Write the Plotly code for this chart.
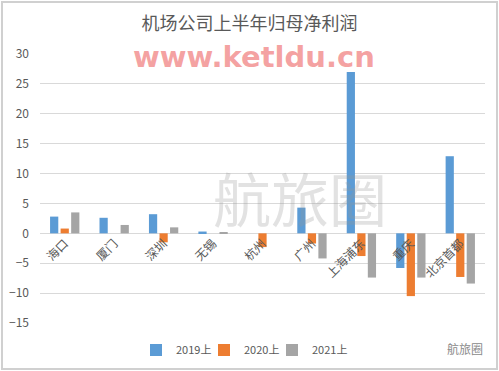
import plotly.graph_objects as go

categories = ["海口", "厦门", "深圳", "无锡", "杭州", "广州", "上海浦东", "重庆", "北京首都"]
series_names = ["2019上", "2020上", "2021上"]
v2019 = [2.8, 2.6, 3.2, 0.3, 0.0, 4.3, 27.0, -5.8, 12.9]
v2020 = [0.8, 0.0, -1.5, 0.0, -2.3, -1.7, -3.8, -10.5, -7.3]
v2021 = [3.5, 1.4, 1.0, 0.2, 0.0, -4.2, -7.4, -7.4, -8.4]
colors = ["#5B9BD5", "#ED7D31", "#A5A5A5"]
y_ticks = [30, 25, 20, 15, 10, 5, 0, -5, -10, -15]

fig = go.Figure()
legend_ids = ["legend", "legend2", "legend3"]
for name, vals, c, lg in zip(series_names, [v2019, v2020, v2021], colors, legend_ids):
    fig.add_trace(go.Bar(name=name, x=categories, y=vals, marker_color=c,
                         marker_line_width=0, legend=lg))

ymin, ymax = -15, 30
legend_px = [136, 204, 272]
legend_common = dict(orientation="h", xanchor="left", yref="container",
                     y=1 - 350 / 371, yanchor="middle", bgcolor="rgba(0,0,0,0)",
                     font=dict(size=11, color="#595959"), itemwidth=30)
fig.update_layout(
    width=499, height=371,
    margin=dict(l=40, r=14, t=54, b=48, autoexpand=False),
    paper_bgcolor="white", plot_bgcolor="white",
    font=dict(family="Noto Sans CJK SC", color="#595959"),
    title=dict(text="机场公司上半年归母净利润", x=0.5, xanchor="center",
               y=1 - 24 / 371, yanchor="middle",
               font=dict(size=18, color="#595959")),
    barmode="group", bargap=0.36, bargroupgap=0.22,
    showlegend=True,
    legend=dict(x=(legend_px[0] - 40) / 445, **legend_common),
    legend2=dict(x=(legend_px[1] - 40) / 445, **legend_common),
    legend3=dict(x=(legend_px[2] - 40) / 445, **legend_common),
    xaxis=dict(anchor="free", position=(0 - ymin) / (ymax - ymin), automargin=False,
               tickangle=-45, tickfont=dict(size=12, color="#595959"),
               showgrid=False, showline=False, ticks=""),
    yaxis=dict(range=[ymin, ymax], tickvals=y_ticks, ticks="", automargin=False,
               tickfont=dict(size=12, color="#595959"), ticklabelstandoff=10,
               gridcolor="#D9D9D9", gridwidth=1, zeroline=True,
               zerolinecolor="#D9D9D9", zerolinewidth=1, showline=False),
)

# watermarks
fig.add_annotation(text="<b>www.ketldu.cn</b>", xref="paper", yref="paper",
                   x=(254 - 40) / 445, y=1 - (57 - 54) / 269, xanchor="center",
                   yanchor="middle", showarrow=False,
                   font=dict(family="DejaVu Sans", size=29, color="rgba(240,120,120,0.7)"))
fig.add_annotation(text="航旅圈", xref="paper", yref="paper",
                   x=(300 - 40) / 445, y=1 - (197 - 54) / 269, xanchor="center",
                   yanchor="middle", showarrow=False,
                   font=dict(family="Noto Sans CJK SC", size=58, color="rgba(150,150,150,0.28)"))
fig.add_annotation(text="航旅圈", xref="paper", yref="paper",
                   x=1.0, y=-(348 - 323) / 269, xanchor="right", yanchor="middle",
                   showarrow=False,
                   font=dict(family="Noto Sans CJK SC", size=12, color="#8a8a8a"))

fig.add_shape(type="rect", xref="paper", yref="paper", x0=-38 / 445, x1=1 + 12 / 445,
              y0=-46 / 269, y1=1 + 52 / 269, line=dict(color="#D0D0D0", width=2))

fig.write_html("out.html")
